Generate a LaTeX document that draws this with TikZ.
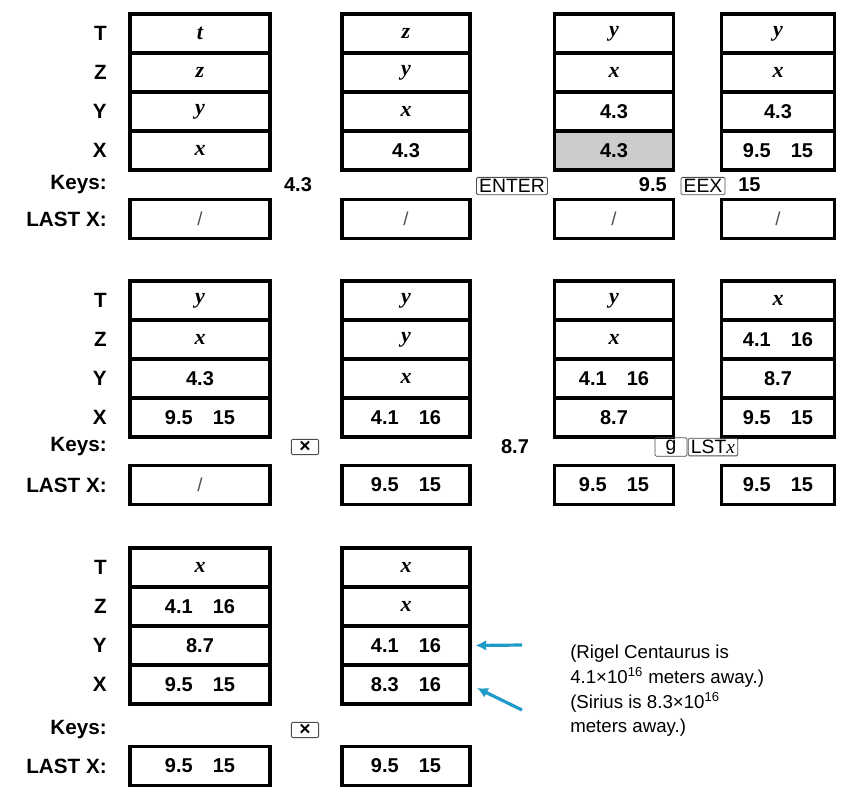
\documentclass[tikz,border=0pt]{standalone}
\usepackage{fontspec}
\setmainfont{Liberation Sans}
\newfontfamily\varf{Liberation Serif}
\usetikzlibrary{arrows.meta}
\begin{document}
\begin{tikzpicture}[x=0.75pt,y=-0.75pt,
  cell/.style={draw,line width=2.3pt,minimum height=29.25pt,inner sep=0pt,font=\fontsize{15}{16}\selectfont\bfseries},
  lx/.style={draw,line width=2.3pt,minimum height=29pt,inner sep=0pt,font=\fontsize{15}{16}\selectfont\bfseries},
  sl/.style={font=\fontsize{14}{15}\selectfont\color{black!70}},
  w1/.style={minimum width=105pt},w2/.style={minimum width=96pt},
  w3/.style={minimum width=89pt},w4/.style={minimum width=85pt},
  lab/.style={anchor=east,font=\fontsize{15.5}{16}\selectfont\bfseries,inner sep=0pt},
  kt/.style={font=\fontsize{15}{16}\selectfont\bfseries,inner sep=0pt},
  key/.style={draw=black!70,line width=0.6pt,rounded corners=1pt,inner xsep=2pt,inner ysep=1.5pt,font=\fontsize{14.5}{15}\selectfont},
  note/.style={anchor=north west,align=left,font=\fontsize{14}{18.5}\selectfont,inner sep=0pt},
  arr/.style={draw={rgb,255:red,30;green,155;blue,200},line width=2.4pt,-{Latex[length=8pt,width=8pt]}}]
\useasboundingbox (0,0) rectangle (843,793);
\newcommand{\V}[1]{{\varf\fontsize{16.5}{17}\selectfont\bfseries\itshape #1}}
\newcommand{\N}[2]{#1\hspace{1.0em}#2}
% labels
\foreach \r/\y in {1/0,2/267,3/534}{
  \node[lab] (T\r) at (107,33.5+\y) {T};
  \node[lab] (Z\r) at (107,72.5+\y) {Z};
  \node[lab] (Y\r) at (107,111.5+\y) {Y};
  \node[lab] (X\r) at (107,150.5+\y) {X};
}
\node[lab] (K1) at (107,185) {Keys:};
\node[lab] (L1) at (107,219) {LAST X:};
\node[lab] (K2) at (107,447) {Keys:};
\node[lab] (L2) at (107,485) {LAST X:};
\node[lab] (K3) at (107,730) {Keys:};
\node[lab] (L3) at (107,766) {LAST X:};
% row 1
\node[cell,w1] (a1t) at (200,33.5) {\V{t}};
\node[cell,w1] (a1z) at (200,72.5) {\V{z}};
\node[cell,w1] (a1y) at (200,111.5) {\V{y}};
\node[cell,w1] (a1x) at (200,150.5) {\V{x}};
\node[cell,w2] (a2t) at (406,33.5) {\V{z}};
\node[cell,w2] (a2z) at (406,72.5) {\V{y}};
\node[cell,w2] (a2y) at (406,111.5) {\V{x}};
\node[cell,w2] (a2x) at (406,150.5) {4.3};
\node[cell,w3] (a3t) at (614,33.5) {\V{y}};
\node[cell,w3] (a3z) at (614,72.5) {\V{x}};
\node[cell,w3] (a3y) at (614,111.5) {4.3};
\node[cell,w3,fill=black!20] (a3x) at (614,150.5) {4.3};
\node[cell,w4] (a4t) at (778,33.5) {\V{y}};
\node[cell,w4] (a4z) at (778,72.5) {\V{x}};
\node[cell,w4] (a4y) at (778,111.5) {4.3};
\node[cell,w4] (a4x) at (778,150.5) {\N{9.5}{15}};
\node[kt] (k1a) at (298,185) {4.3};
\node[key] (k1b) at (512,186) {ENTER};
\node[kt,anchor=east] (k1c) at (667,185) {9.5};
\node[key] (k1d) at (703,186) {EEX};
\node[kt,anchor=west] (k1e) at (738,185) {15};
\node[lx,w1,sl] (l11) at (200,219) {/};
\node[lx,w2,sl] (l12) at (406,219) {/};
\node[lx,w3,sl] (l13) at (614,219) {/};
\node[lx,w4,sl] (l14) at (778,219) {/};
% row 2
\node[cell,w1] (b1t) at (200,300.5) {\V{y}};
\node[cell,w1] (b1z) at (200,339.5) {\V{x}};
\node[cell,w1] (b1y) at (200,378.5) {4.3};
\node[cell,w1] (b1x) at (200,417.5) {\N{9.5}{15}};
\node[cell,w2] (b2t) at (406,300.5) {\V{y}};
\node[cell,w2] (b2z) at (406,339.5) {\V{y}};
\node[cell,w2] (b2y) at (406,378.5) {\V{x}};
\node[cell,w2] (b2x) at (406,417.5) {\N{4.1}{16}};
\node[cell,w3] (b3t) at (614,300.5) {\V{y}};
\node[cell,w3] (b3z) at (614,339.5) {\V{x}};
\node[cell,w3] (b3y) at (614,378.5) {\N{4.1}{16}};
\node[cell,w3] (b3x) at (614,417.5) {8.7};
\node[cell,w4] (b4t) at (778,300.5) {\V{x}};
\node[cell,w4] (b4z) at (778,339.5) {\N{4.1}{16}};
\node[cell,w4] (b4y) at (778,378.5) {8.7};
\node[cell,w4] (b4x) at (778,417.5) {\N{9.5}{15}};
\node[key,inner xsep=6pt,font=\fontsize{14.5}{15}\selectfont\bfseries] (k2a) at (305,447) {×};
\node[kt] (k2b) at (515,447) {8.7};
\node[key,inner xsep=8pt] (k2c) at (671,447) {g};
\node[key] (k2d) at (713,447) {LST{\varf\itshape x}};
\node[lx,w1,sl] (l21) at (200,485) {/};
\node[lx,w2] (l22) at (406,485) {\N{9.5}{15}};
\node[lx,w3] (l23) at (614,485) {\N{9.5}{15}};
\node[lx,w4] (l24) at (778,485) {\N{9.5}{15}};
% row 3
\node[cell,w1] (c1t) at (200,567.5) {\V{x}};
\node[cell,w1] (c1z) at (200,606.5) {\N{4.1}{16}};
\node[cell,w1] (c1y) at (200,645.5) {8.7};
\node[cell,w1] (c1x) at (200,684.5) {\N{9.5}{15}};
\node[cell,w2] (c2t) at (406,567.5) {\V{x}};
\node[cell,w2] (c2z) at (406,606.5) {\V{x}};
\node[cell,w2] (c2y) at (406,645.5) {\N{4.1}{16}};
\node[cell,w2] (c2x) at (406,684.5) {\N{8.3}{16}};
\node[key,inner xsep=6pt,font=\fontsize{14.5}{15}\selectfont\bfseries] (k3a) at (305,730) {×};
\node[lx,w1] (l31) at (200,766) {\N{9.5}{15}};
\node[lx,w2] (l32) at (406,766) {\N{9.5}{15}};
% notes
\node[note] (n1) at (570,645) {(Rigel Centaurus is\\4.1×10\textsuperscript{16} meters away.)\\(Sirius is 8.3×10\textsuperscript{16}\\meters away.)};
\coordinate (s1) at (522,645);
\coordinate (s2) at (522,710);
\coordinate (e2) at (477,688);
\draw[arr] (s1) -- ([xshift=3pt]c2y.east);
\draw[arr] (s2) -- (e2);
\end{tikzpicture}
\end{document}
